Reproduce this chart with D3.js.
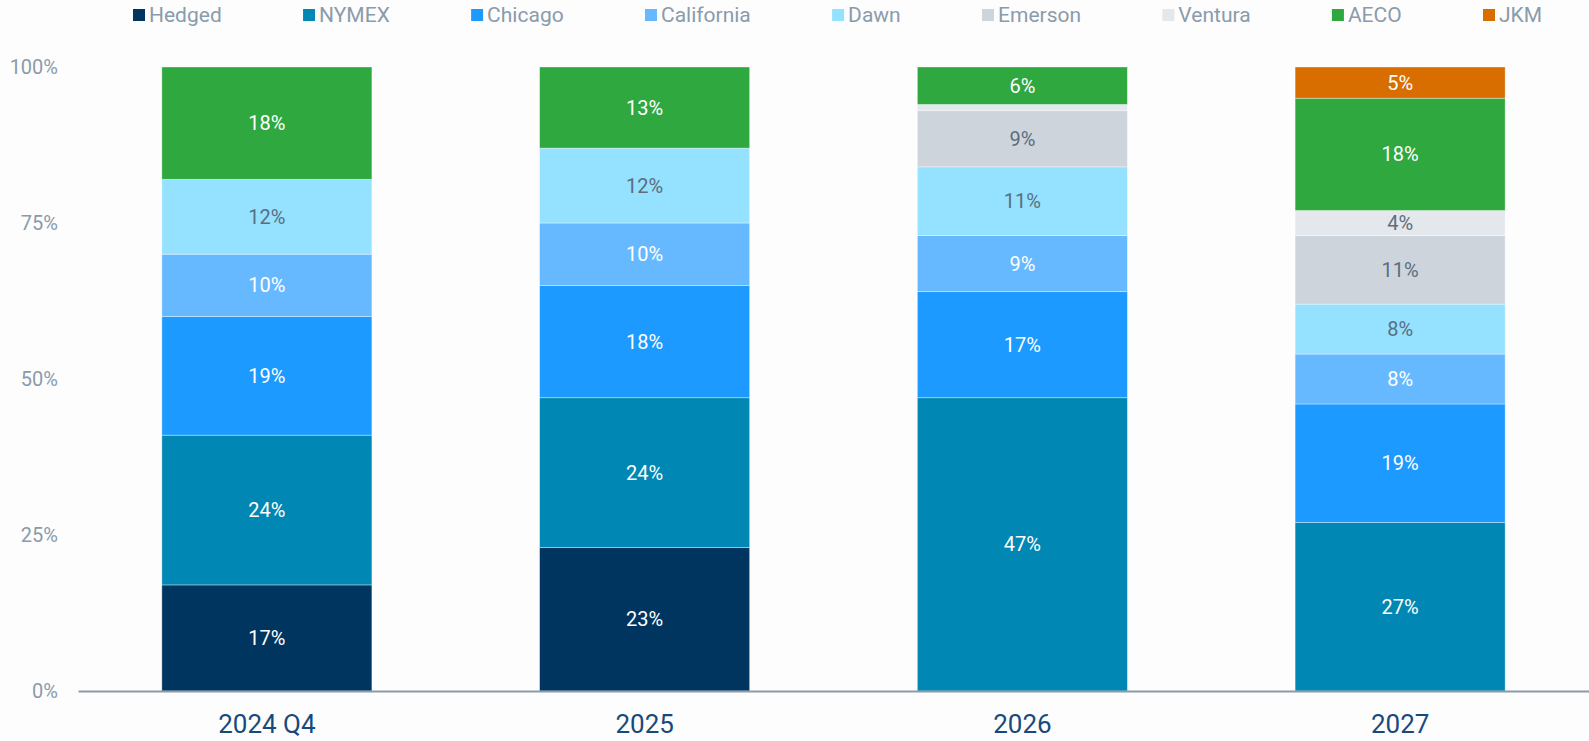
<!DOCTYPE html>
<html>
<head>
<meta charset="utf-8">
<script src="https://cdn.jsdelivr.net/npm/d3@7"></script>
<style>
  html, body { margin: 0; padding: 0; background: #fdfdfd; }
  svg { display: block; font-family: Roboto, "Noto Sans", sans-serif; }
</style>
</head>
<body>
<svg id="chart" width="1589" height="741"></svg>
<script>
// Period categories along the x axis
const periods = ["2024 Q4", "2025", "2026", "2027"];

// Hub names, bottom to top in each stack
const hubs = ["Hedged", "NYMEX", "Chicago", "California", "Dawn", "Emerson", "Ventura", "AECO", "JKM"];

// Share of volume (%) per hub, one value per period
const hedged     = [17, 23, 0, 0];
const nymex      = [24, 24, 47, 27];
const chicago    = [19, 18, 17, 19];
const california = [10, 10, 9, 8];
const dawn       = [12, 12, 11, 8];
const emerson    = [0, 0, 9, 11];
const ventura    = [0, 0, 1, 4];
const aeco       = [18, 13, 6, 18];
const jkm        = [0, 0, 0, 5];

// Y axis tick values (%)
const yTicks = [0, 25, 50, 75, 100];

const hubColors = ["#00355f", "#0087b3", "#1c9aff", "#67b9ff", "#94e2ff", "#cdd4dc", "#e4e8ec", "#2ea83f", "#d86e00"];
const darkLabelHubs = new Set(["Dawn", "Emerson", "Ventura"]);

const seriesValues = [hedged, nymex, chicago, california, dawn, emerson, ventura, aeco, jkm];
const rows = periods.map((p, i) => {
  const r = { period: p };
  hubs.forEach((h, k) => { r[h] = seriesValues[k][i]; });
  return r;
});

const svg = d3.select("#chart");
const width = 1589, height = 741;
const margin = { top: 67, right: 0, bottom: 50, left: 78 };

const x = d3.scaleBand()
  .domain(periods)
  .range([margin.left, width - margin.right])
  .paddingInner(0.444)
  .paddingOuter(0.222);

const y = d3.scaleLinear()
  .domain([0, 100])
  .range([height - margin.bottom, margin.top]);

const color = d3.scaleOrdinal().domain(hubs).range(hubColors);

const stacked = d3.stack().keys(hubs)(rows);

// Stacked segments
const layer = svg.append("g").selectAll("g")
  .data(stacked)
  .join("g")
  .attr("fill", d => color(d.key));

layer.selectAll("rect")
  .data(d => d.map(v => ({ key: d.key, v })))
  .join("rect")
  .attr("x", d => x(d.v.data.period))
  .attr("width", x.bandwidth())
  .attr("y", d => y(d.v[1]))
  .attr("height", d => Math.max(0, y(d.v[0]) - y(d.v[1])))
  .attr("stroke", "rgba(255,255,255,0.45)")
  .attr("stroke-width", 0.8);

// Segment value labels
layer.selectAll("text")
  .data(d => d.map(v => ({ key: d.key, v })).filter(d => d.v[1] - d.v[0] >= 2))
  .join("text")
  .attr("x", d => x(d.v.data.period) + x.bandwidth() / 2)
  .attr("y", d => y((d.v[0] + d.v[1]) / 2))
  .attr("dy", "0.35em")
  .attr("text-anchor", "middle")
  .attr("font-size", 20)
  .attr("fill", d => darkLabelHubs.has(d.key) ? "#5b6e80" : "#ffffff")
  .text(d => (d.v[1] - d.v[0]) + "%");

// Y axis labels
const yAxis = svg.append("g")
  .attr("transform", `translate(${margin.left - 20},0)`)
  .call(d3.axisLeft(y).tickValues(yTicks).tickFormat(d => d + "%").tickSize(0).tickPadding(0));
yAxis.select(".domain").remove();
yAxis.selectAll("text")
  .attr("font-family", "Roboto, sans-serif")
  .attr("font-size", 20)
  .attr("fill", "#8a9bab");

// X axis baseline and category labels
const xAxis = svg.append("g")
  .attr("transform", `translate(0,${height - margin.bottom})`)
  .call(d3.axisBottom(x).tickSize(0).tickPadding(24));
xAxis.select(".domain")
  .attr("stroke", "#8a9bab")
  .attr("stroke-width", 2);
xAxis.selectAll("text")
  .attr("font-family", "Roboto, sans-serif")
  .attr("font-size", 26)
  .attr("fill", "#174a7c");

// Legend: swatch + label, spread so the row runs from legendStart to legendEnd
const legendStart = 133, legendEnd = 1483, swatch = 12, swatchGap = 4;
const legend = svg.append("g");
const items = legend.selectAll("g")
  .data(hubs)
  .join("g");
items.append("rect")
  .attr("x", 0).attr("y", 9)
  .attr("width", swatch).attr("height", swatch)
  .attr("fill", h => color(h));
const labels = items.append("text")
  .attr("x", swatch + swatchGap).attr("y", 15)
  .attr("dy", "0.35em")
  .attr("font-size", 21)
  .attr("fill", "#8a9bab")
  .text(h => h);
const widths = labels.nodes().map(n => swatch + swatchGap + n.getComputedTextLength());
const used = d3.sum(widths.slice(0, -1));
const itemGap = (legendEnd - legendStart - used) / (hubs.length - 1);
let cursor = legendStart;
items.each(function(h, i) {
  d3.select(this).attr("transform", `translate(${cursor},0)`);
  cursor += widths[i] + itemGap;
});
</script>
</body>
</html>
